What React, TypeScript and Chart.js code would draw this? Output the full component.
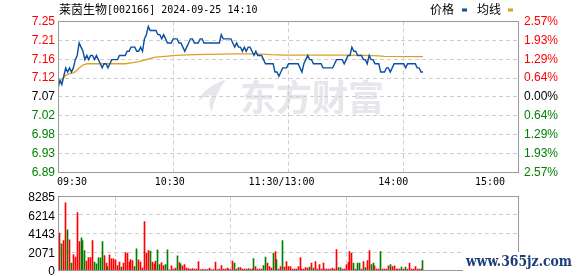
import { useEffect, useRef } from "react";
import { Chart, registerables } from "chart.js";

Chart.register(...registerables);

// ---------------- data ----------------
const titleName = "莱茵生物";
const titleInfo = "[002166] 2024-09-25 14:10";
const legendLabels = ["价格", "均线"];
const timeLabels = ["09:30", "10:30", "11:30/13:00", "14:00", "15:00"];
const timeTickMinutes = [0, 60, 120, 180, 240];

const priceTickValues = [7.2517, 7.2063, 7.1608, 7.1154, 7.07, 7.0246, 6.9792, 6.9337, 6.8883];
const priceTickLabels = ["7.25", "7.21", "7.16", "7.12", "7.07", "7.02", "6.98", "6.93", "6.89"];
const pctTickLabels = ["2.57%", "1.93%", "1.29%", "0.64%", "0.00%", "0.64%", "1.29%", "1.93%", "2.57%"];
const volTickValues = [0, 2071, 4143, 6214, 8285];
const volTickLabels = ["0", "2071", "4143", "6214", "8285"];

// one price per minute, index 0 = 09:30, 120 = 11:30/13:00
const price = [
  7.09, 7.11, 7.10, 7.12, 7.14, 7.13, 7.14, 7.13, 7.14, 7.16,
  7.17, 7.20, 7.19, 7.18, 7.16, 7.17, 7.16, 7.17, 7.17, 7.16,
  7.17, 7.16, 7.15, 7.14, 7.15, 7.15, 7.14, 7.15, 7.16, 7.16,
  7.16, 7.16, 7.17, 7.17, 7.17, 7.17, 7.18, 7.18, 7.19, 7.19,
  7.19, 7.18, 7.18, 7.19, 7.18, 7.21, 7.22, 7.24, 7.23, 7.23,
  7.23, 7.23, 7.22, 7.22, 7.21, 7.22, 7.21, 7.20, 7.20, 7.20,
  7.21, 7.21, 7.21, 7.20, 7.20, 7.19, 7.18, 7.19, 7.20, 7.21,
  7.21, 7.20, 7.20, 7.20, 7.21, 7.21, 7.20, 7.20, 7.20, 7.20,
  7.20, 7.20, 7.20, 7.20, 7.20, 7.22, 7.21, 7.21, 7.21, 7.21,
  7.21, 7.20, 7.19, 7.20, 7.19, 7.19, 7.18, 7.19, 7.18, 7.19,
  7.19, 7.18, 7.17, 7.18, 7.17, 7.17, 7.17, 7.16, 7.15, 7.15,
  7.15, 7.15, 7.15, 7.13, 7.13, 7.12, 7.13, 7.14, 7.14, 7.14,
  7.15, 7.15, 7.15, 7.15, 7.15, 7.15, 7.14, 7.13, 7.15, 7.16,
  7.17, 7.16, 7.16, 7.15, 7.15, 7.15, 7.15, 7.15, 7.14, 7.14,
  7.14, 7.14, 7.14, 7.14, 7.15, 7.16, 7.16, 7.16, 7.16, 7.15,
  7.16, 7.17, 7.17, 7.19, 7.18, 7.18, 7.17, 7.17, 7.17, 7.16,
  7.16, 7.15, 7.17, 7.16, 7.16, 7.15, 7.15, 7.15, 7.13, 7.13,
  7.13, 7.14, 7.14, 7.13, 7.14, 7.15, 7.15, 7.15, 7.15, 7.15,
  7.15, 7.14, 7.15, 7.15, 7.15, 7.15, 7.15, 7.14, 7.14, 7.13,
  7.13,
];

// average-price line, read at these minutes
const avgMinutes = [0, 2, 4, 6, 8, 9, 11, 13, 15, 35, 38, 42, 45, 48, 51, 56, 61, 71, 85, 92, 103, 111, 118, 150, 160, 167, 170, 190];
const avgValues = [7.102, 7.112, 7.122, 7.126, 7.128, 7.131, 7.140, 7.147, 7.150, 7.150, 7.152, 7.155, 7.159, 7.163, 7.166, 7.168, 7.170, 7.172, 7.173, 7.174, 7.174, 7.172, 7.171, 7.171, 7.170, 7.169, 7.168, 7.167];

// volume per minute (lots)
const volume = [
  null, 4180, 2985, 3360, 7575, 4550, 3430, 820, 1790, 1490,
  6495, 3250, 3660, 3360, 2240, 1045, 1455, 1455, 3360, 933,
  746, 1420, 1420, 3250, 1680, 820, 448, 1755, 1306, 1306,
  1194, 560, 933, 373, 820, 2015, 1940, 933, 1230, 1120,
  448, 2425, 1194, 933, 261, 5485, 1940, 2240, 2165, 933,
  746, 1045, 2314, 672, 896, 560, 672, 2314, 75, 522,
  150, 261, 1640, 896, 746, 522, 672, 261, 224, 150,
  224, 150, 150, 1008, 112, 112, 112, 112, 112, 261,
  112, 112, 933, 112, 150, 560, 150, 150, 261, 150,
  112, 1045, 820, 150, 336, 336, 150, 150, 150, 224,
  150, 150, 1345, 448, 150, 150, 150, 560, 1490, 820,
  448, 261, 1940, 2127, 1230, 150, 448, 3360, 373, 1008,
  448, 448, 150, 150, 150, 448, 1455, 150, 150, 336,
  261, 373, 820, 261, 1008, 150, 672, 150, 820, 150,
  150, 150, 150, 261, 150, 2350, 336, 336, 150, 150,
  672, 933, 2127, 1940, 820, 150, 820, 820, 150, 1008,
  336, 1120, 2240, 672, 820, 522, 150, 150, 2127, 150,
  150, 150, 522, 672, 448, 522, 150, 150, 150, 373,
  150, 373, 150, 820, 150, 150, 448, 150, 150, 150,
  1120,
];
// 1 = up (red), 0 = down (green)
const volUp = [
  1, 1, 0, 1, 1, 0, 1, 0, 1, 1,
  1, 1, 0, 0, 0, 1, 1, 1, 1, 0,
  0, 0, 0, 0, 1, 1, 0, 1, 1, 1,
  1, 1, 1, 0, 1, 1, 1, 1, 1, 1,
  0, 0, 1, 1, 1, 1, 1, 1, 0, 1,
  1, 1, 0, 0, 1, 1, 0, 0, 1, 1,
  1, 1, 0, 1, 0, 1, 1, 1, 1, 1,
  1, 1, 1, 1, 1, 1, 1, 1, 1, 1,
  1, 1, 1, 1, 1, 1, 1, 1, 1, 1,
  1, 1, 0, 1, 0, 1, 1, 1, 1, 0,
  1, 1, 0, 1, 1, 1, 1, 0, 0, 1,
  1, 1, 0, 1, 0, 1, 1, 0, 1, 1,
  1, 1, 1, 1, 1, 1, 1, 1, 1, 1,
  1, 0, 1, 0, 1, 1, 1, 1, 1, 1,
  1, 1, 1, 1, 1, 1, 0, 0, 1, 1,
  1, 1, 1, 1, 0, 1, 0, 0, 1, 1,
  0, 1, 1, 0, 0, 1, 1, 1, 0, 1,
  1, 1, 1, 0, 1, 1, 1, 1, 1, 0,
  1, 0, 1, 1, 1, 1, 1, 1, 1, 1,
  0,
];

// ---------------- styles ----------------
const W = 578;
const TOP_H = 190;
const VOL_H = 86;
const BLUE = "#0b4fa2";
const ORANGE = "#dba222";
const RED = "#ff0000";
const GREEN = "#008000";
const GRID = "#cfcfcf";
const FRAME = "#999999";
const NUM_FONT = "'Liberation Sans', Arial, sans-serif";
const MONO_FONT = "'DejaVu Sans Mono', 'Liberation Mono', monospace";
const CJK_FONT = "'Noto Sans CJK SC', sans-serif";

const tickColor = (i: number) => (i < 4 ? RED : i === 4 ? "#000000" : GREEN);

const zeroPad = (s: any) => {
  s.paddingTop = 0;
  s.paddingBottom = 0;
  s.paddingLeft = 0;
  s.paddingRight = 0;
};

const frame = (chart: any) => {
  const { ctx, chartArea } = chart;
  ctx.save();
  ctx.strokeStyle = FRAME;
  ctx.lineWidth = 1;
  const l = Math.round(chartArea.left) + 0.5;
  const r = Math.round(chartArea.right) - 0.5;
  const t = Math.floor(chartArea.top) + 0.5;
  const b = Math.floor(chartArea.bottom) + 0.5;
  ctx.strokeRect(l, t, r - l, b - t);
  ctx.restore();
};

const topDecor = {
  id: "topDecor",
  beforeDraw(chart: any) {
    const { ctx } = chart;
    ctx.save();
    ctx.fillStyle = "#e6e6eb";
    ctx.font = `bold 36px ${CJK_FONT}`;
    ctx.textBaseline = "middle";
    ctx.textAlign = "left";
    ctx.fillText("东方财富", 240, 97);
    // logo swoosh
    ctx.beginPath();
    ctx.moveTo(226, 79);
    ctx.quadraticCurveTo(200, 90, 199, 101);
    ctx.quadraticCurveTo(205, 95, 212, 95);
    ctx.quadraticCurveTo(207, 104, 212, 112);
    ctx.quadraticCurveTo(214, 96, 226, 79);
    ctx.fill();
    ctx.restore();
  },
  afterDraw(chart: any) {
    const { ctx, chartArea } = chart;
    frame(chart);
    ctx.save();
    // title
    ctx.textBaseline = "middle";
    ctx.textAlign = "left";
    ctx.fillStyle = "#000000";
    ctx.font = `12px ${CJK_FONT}`;
    ctx.fillText(titleName, 59, 9.5);
    const w = ctx.measureText(titleName).width;
    ctx.font = `10px ${MONO_FONT}`;
    ctx.fillText(titleInfo, 59 + w, 10);
    // legend
    ctx.font = `12px ${CJK_FONT}`;
    ctx.fillText(legendLabels[0], 430, 9.5);
    ctx.fillText(legendLabels[1], 477, 9.5);
    ctx.fillStyle = BLUE;
    ctx.fillRect(462, 8.5, 5, 3);
    ctx.fillStyle = ORANGE;
    ctx.fillRect(508, 8.5, 5, 3);
    // time labels
    ctx.fillStyle = "#000000";
    ctx.font = `10px ${MONO_FONT}`;
    const span = chartArea.width - 14;
    const last = timeLabels.length - 1;
    timeLabels.forEach((t, i) => {
      const px = chartArea.left + (timeTickMinutes[i] / 240) * span;
      ctx.textAlign = i === 0 ? "left" : i === last ? "right" : "center";
      ctx.fillText(t, i === 0 ? px - 1 : px, chartArea.bottom + 10);
    });
    ctx.restore();
  },
};

const volDecor = {
  id: "volDecor",
  afterDatasetsUpdate(chart: any) {
    // snap the 1px bars onto whole pixel columns so they stay crisp
    chart.getDatasetMeta(0).data.forEach((el: any) => {
      el.x = Math.floor(el.x) + 0.5;
    });
  },
  afterDraw(chart: any) {
    const { ctx } = chart;
    frame(chart);
    ctx.save();
    ctx.fillStyle = "#ffffff";
    ctx.fillRect(463, 62, 115, 24);
    ctx.fillStyle = "#1c3d7a";
    ctx.font = `bold 15px 'DejaVu Serif', serif`;
    ctx.textBaseline = "middle";
    ctx.textAlign = "left";
    ctx.fillText("www.365jz.com", 466, 72, 106);
    ctx.restore();
  },
};

const edgeGrid = (vals: number[]) => (ctx: any) => {
  const v = ctx.tick ? ctx.tick.value : null;
  if (v === null) return GRID;
  return v === vals[0] || v === vals[vals.length - 1] ? "rgba(0,0,0,0)" : GRID;
};

export default function App() {
  const topRef = useRef<HTMLCanvasElement | null>(null);
  const volRef = useRef<HTMLCanvasElement | null>(null);

  useEffect(() => {
    if (!topRef.current || !volRef.current) return;
    const xCommon = (height: number) => ({
      type: "linear" as const,
      min: 0,
      max: 240,
      afterBuildTicks: (s: any) => {
        s.ticks = timeTickMinutes.map((v) => ({ value: v }));
      },
      ticks: { display: false },
      grid: { color: edgeGrid(timeTickMinutes), drawTicks: false, lineWidth: 1 },
      border: { display: false, dash: [4, 3] },
      afterFit: (s: any) => {
        s.height = height;
        zeroPad(s);
      },
    });

    const top = new Chart(topRef.current, {
      type: "line",
      data: {
        datasets: [
          {
            label: legendLabels[0],
            data: price.map((v, i) => ({ x: i, y: v })),
            borderColor: BLUE,
            borderWidth: 1.4,
            pointRadius: 0,
            tension: 0,
            yAxisID: "y",
          },
          {
            label: legendLabels[1],
            data: avgMinutes.map((m, i) => ({ x: m, y: avgValues[i] })),
            borderColor: ORANGE,
            borderWidth: 1.3,
            pointRadius: 0,
            tension: 0,
            yAxisID: "y",
          },
        ],
      },
      options: {
        responsive: false,
        animation: false,
        events: [],
        layout: { padding: { top: 21.5, left: 0, right: 0, bottom: 0 } },
        plugins: { legend: { display: false }, tooltip: { enabled: false }, title: { display: false } },
        scales: {
          x: xCommon(TOP_H - 172.5),
          y: {
            position: "left",
            min: priceTickValues[priceTickValues.length - 1],
            max: priceTickValues[0],
            afterBuildTicks: (s: any) => {
              s.ticks = priceTickValues.map((v) => ({ value: v }));
            },
            ticks: {
              autoSkip: false,
              padding: 3,
              font: { family: NUM_FONT, size: 12 },
              color: (c: any) => tickColor(c.index),
              callback: (_v: any, i: number) => priceTickLabels[i],
            },
            grid: { color: edgeGrid(priceTickValues.slice().reverse()), drawTicks: false },
            border: { display: false, dash: [4, 3] },
            afterFit: (s: any) => {
              s.width = 58;
              zeroPad(s);
            },
          },
          y2: {
            position: "right",
            min: priceTickValues[priceTickValues.length - 1],
            max: priceTickValues[0],
            afterBuildTicks: (s: any) => {
              s.ticks = priceTickValues.map((v) => ({ value: v }));
            },
            ticks: {
              autoSkip: false,
              padding: 5,
              font: { family: NUM_FONT, size: 12 },
              color: (c: any) => tickColor(c.index),
              callback: (_v: any, i: number) => pctTickLabels[i],
            },
            grid: { drawOnChartArea: false, drawTicks: false },
            border: { display: false },
            afterFit: (s: any) => {
              s.width = W - 519;
              zeroPad(s);
            },
          },
        },
      },
      plugins: [topDecor],
    });

    const vol = new Chart(volRef.current, {
      type: "bar",
      data: {
        datasets: [
          {
            data: volume.map((v, i) => ({ x: i, y: v })),
            backgroundColor: volUp.map((u) => (u ? RED : GREEN)),
            barThickness: 1,
            borderWidth: 0,
          },
        ],
      },
      options: {
        responsive: false,
        animation: false,
        events: [],
        layout: { padding: { top: 6.5, left: 0, right: W - 519, bottom: 0 } },
        plugins: { legend: { display: false }, tooltip: { enabled: false } },
        scales: {
          x: { ...xCommon(VOL_H - 80.5), offset: false },
          y: {
            position: "left",
            min: 0,
            max: volTickValues[volTickValues.length - 1],
            afterBuildTicks: (s: any) => {
              s.ticks = volTickValues.map((v) => ({ value: v }));
            },
            ticks: {
              autoSkip: false,
              padding: 3,
              labelOffset: 1.5,
              font: { family: NUM_FONT, size: 12 },
              color: "#000000",
              callback: (_v: any, i: number) => volTickLabels[i],
            },
            grid: { color: edgeGrid(volTickValues), drawTicks: false },
            border: { display: false, dash: [4, 3] },
            afterFit: (s: any) => {
              s.width = 58;
              zeroPad(s);
            },
          },
        },
      },
      plugins: [volDecor],
    });

    return () => {
      top.destroy();
      vol.destroy();
    };
  }, []);

  return (
    <div style={{ position: "fixed", left: 0, top: 0, width: W, height: TOP_H + VOL_H, background: "#ffffff" }}>
      <canvas ref={topRef} width={W} height={TOP_H} style={{ display: "block", width: W, height: TOP_H }} />
      <canvas ref={volRef} width={W} height={VOL_H} style={{ display: "block", width: W, height: VOL_H }} />
    </div>
  );
}
